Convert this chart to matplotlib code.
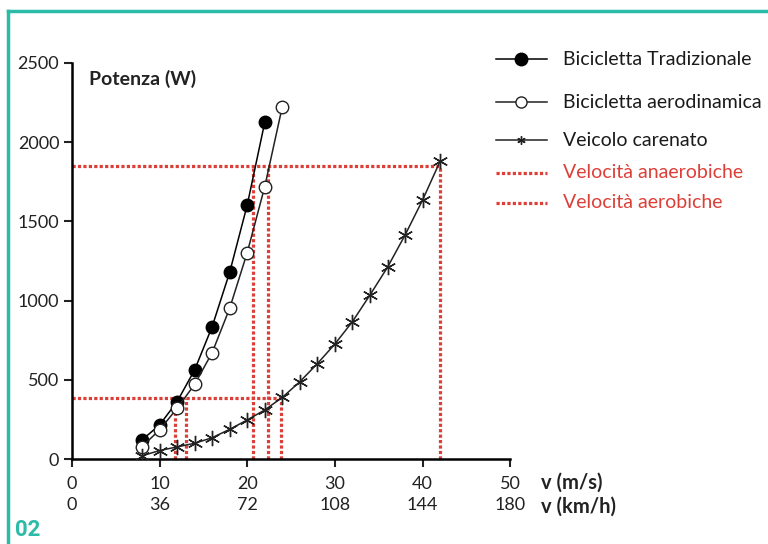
import numpy as np
import matplotlib.pyplot as plt
from matplotlib.lines import Line2D

plt.rcParams['font.family'] = ['Lato', 'DejaVu Sans']

# Data
v_trad = [8, 10, 12, 14, 16, 18, 20, 22]
p_trad = [122, 216, 363, 563, 836, 1179, 1603, 2125]

v_aero = [8, 10, 12, 14, 16, 18, 20, 22, 24]
p_aero = [80, 185, 321, 472, 672, 952, 1303, 1719, 2223]

v_car = [8, 10, 12, 14, 16, 18, 20, 22, 24, 26, 28, 30, 32, 34, 36, 38, 40, 42]
p_car = [22, 55, 78, 101, 136, 189, 248, 311, 390, 489, 603, 727, 868, 1036, 1211, 1414, 1635, 1880]

# threshold speeds (m/s) and power levels (W)
p_anaer = 1850
v_anaer = [20.7, 22.4, 42]
p_aer = 385
v_aer = [11.8, 13.0, 23.8]

ms_ticks = [0, 10, 20, 30, 40, 50]
kmh_labels = ['0', '36', '72', '108', '144', '180']
y_ticks = [0, 500, 1000, 1500, 2000, 2500]

legend_labels = ['Bicicletta Tradizionale', 'Bicicletta aerodinamica', 'Veicolo carenato',
                 'Velocità anaerobiche', 'Velocità aerobiche']

RED = '#dc3f38'
TEAL = '#2bbba8'
DOTS = (0, (1, 0.7))
dot_style = dict(color=RED, lw=2.3, linestyle=DOTS, zorder=1)

fig = plt.figure(figsize=(7.68, 5.44), dpi=100)
ax = fig.add_axes([0.0935, 0.1557, 0.571, 0.729])

# red dotted guides
ax.plot([0, v_anaer[-1]], [p_anaer, p_anaer], **dot_style)
for v in v_anaer:
    ax.plot([v, v], [0, p_anaer], **dot_style)
ax.plot([0, v_aer[-1]], [p_aer, p_aer], **dot_style)
for v in v_aer:
    ax.plot([v, v], [0, p_aer], **dot_style)

ax.plot(v_trad, p_trad, color='black', lw=1.1, marker='o', ms=9, mfc='black', mec='black', zorder=3)
ax.plot(v_aero, p_aero, color='#222222', lw=1.1, marker='o', ms=9, mfc='white', mec='#222222', mew=1, zorder=3)
ax.plot(v_car, p_car, color='#222222', lw=1.1, marker=(6, 2, 0), ms=11, mew=1, zorder=3)

ax.set_xlim(0, 50)
ax.set_ylim(0, 2500)
ax.set_xticks(ms_ticks)
ax.set_xticklabels([f'{m}\n{k}' for m, k in zip(ms_ticks, kmh_labels)], linespacing=1.4)
ax.set_yticks(y_ticks)
for s in ['top', 'right']:
    ax.spines[s].set_visible(False)
for s in ['left', 'bottom']:
    ax.spines[s].set_linewidth(1.8)
ax.tick_params(axis='both', direction='out', length=6, width=1.5, labelsize=13, colors='#222222')
ax.tick_params(axis='x', pad=6)
ax.tick_params(axis='y', pad=3)

ax.text(0.04, 0.96, 'Potenza (W)', transform=ax.transAxes, fontsize=14, fontweight='bold',
        va='center', ha='left', color='#222222')
fig.text(0.705, 0.112, 'v (m/s)', fontsize=14.5, fontweight='bold', va='center', color='#222222')
fig.text(0.705, 0.068, 'v (km/h)', fontsize=14.5, fontweight='bold', va='center', color='#222222')

# legend drawn by hand to keep the uneven row spacing
leg_y = [0.8915, 0.8125, 0.7426, 0.682, 0.627]
lines = [dict(color='black', lw=1.1), dict(color='#222222', lw=1.1), dict(color='#222222', lw=1.1),
         dict(color=RED, lw=2.3, linestyle=DOTS), dict(color=RED, lw=2.3, linestyle=DOTS)]
marks = [dict(marker='o', ms=9, mfc='black', mec='black'),
         dict(marker='o', ms=8, mfc='white', mec='#222222'),
         dict(marker=(6, 2, 0), ms=6, mec='#222222', mew=1),
         None, None]
for y, lab, ln, mk in zip(leg_y, legend_labels, lines, marks):
    fig.add_artist(Line2D([0.646, 0.712], [y, y], transform=fig.transFigure, **ln))
    if mk is not None:
        fig.add_artist(Line2D([0.679], [y], transform=fig.transFigure, linestyle='none', **mk))
    col = RED if 'Velocit' in lab else '#1a1a1a'
    fig.text(0.733, y, lab, fontsize=14, va='center', ha='left', color=col)

# teal frame and figure number
fig.add_artist(Line2D([0.011, 0.011], [0.0, 0.98], transform=fig.transFigure, color=TEAL, lw=2.5))
fig.add_artist(Line2D([0.011, 1.0], [0.98, 0.98], transform=fig.transFigure, color=TEAL, lw=2.5))
fig.text(0.019, 0.025, '02', fontsize=16, fontweight='bold', color=TEAL, va='center', ha='left',
         family='Roboto')

fig.savefig('out.png', dpi=100)
